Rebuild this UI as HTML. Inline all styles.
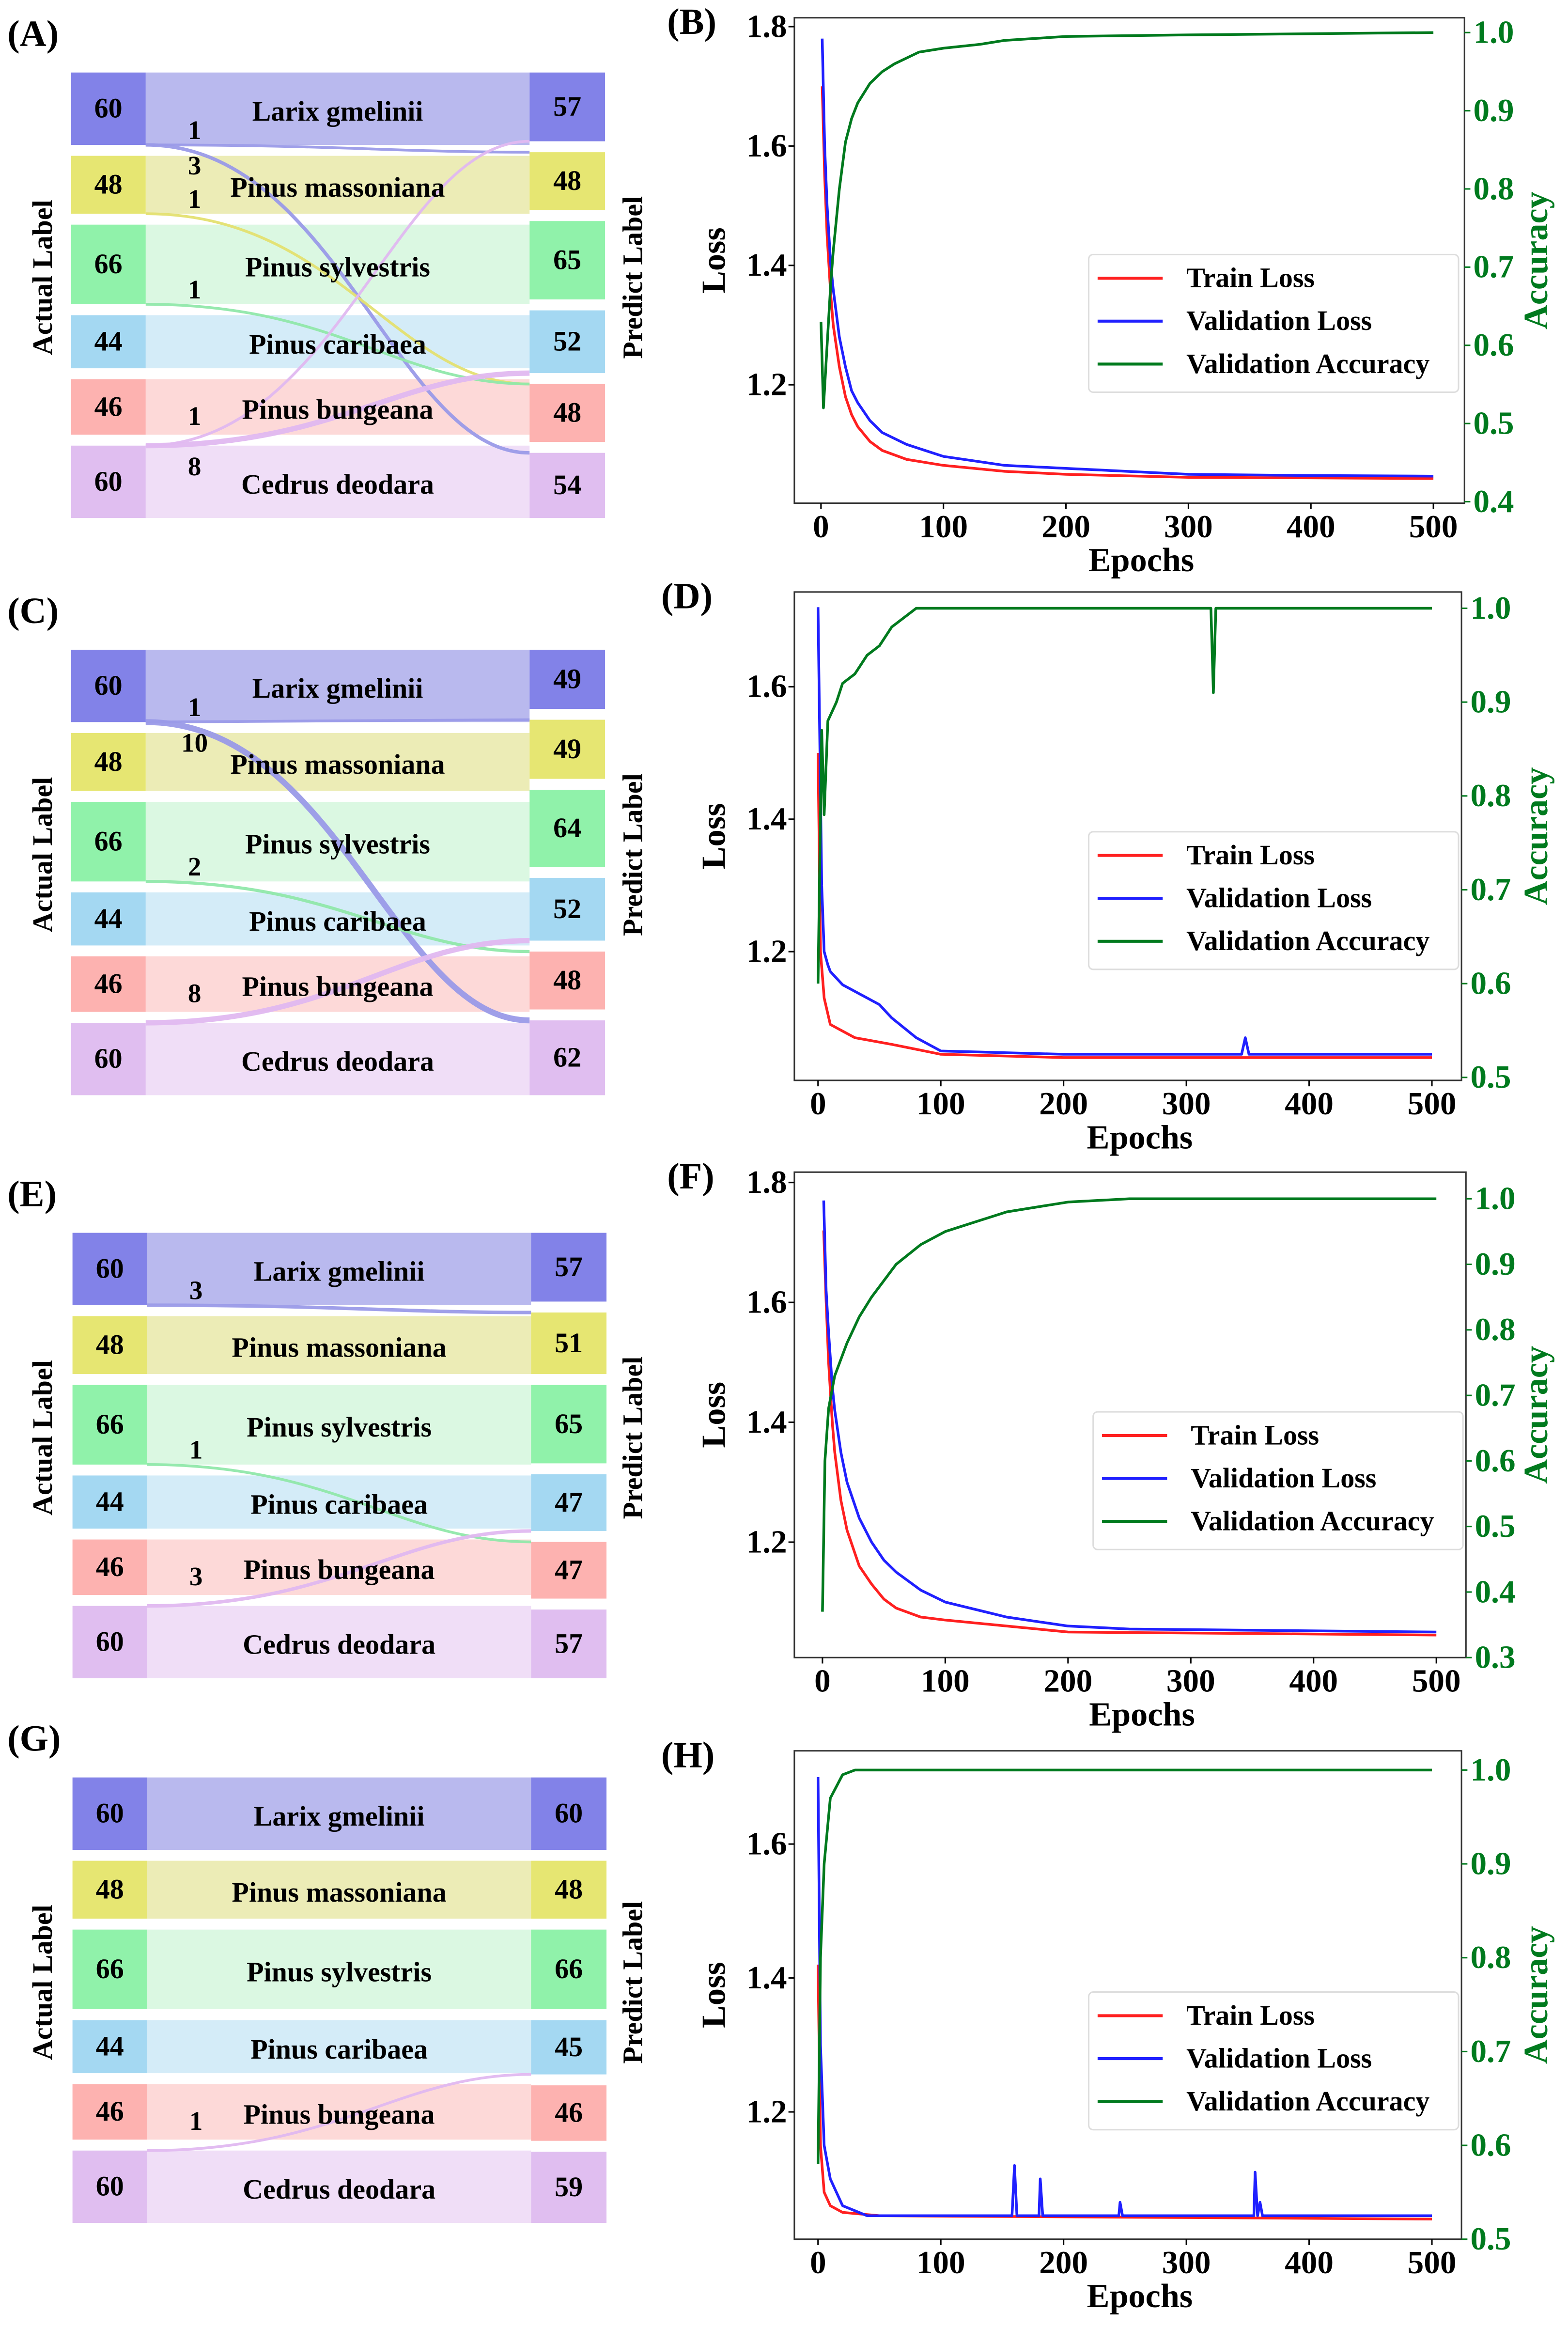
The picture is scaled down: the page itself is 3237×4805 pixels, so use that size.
<!DOCTYPE html>
<html><head><meta charset="utf-8"><style>
html,body{margin:0;padding:0;background:#fff}
svg{display:block}
text{font-family:"Liberation Serif",serif;font-weight:bold}
</style></head>
<body>
<svg id="fig" xmlns="http://www.w3.org/2000/svg" width="3237" height="4805" viewBox="0 0 1060 1573" preserveAspectRatio="none">
<rect x="0" y="0" width="1060" height="1573" fill="#fff"/>
</svg>
<script>
// ---------- Sankey data ----------
const classNames = ["Larix gmelinii","Pinus massoniana","Pinus sylvestris","Pinus caribaea","Pinus bungeana","Cedrus deodara"];
const actualCounts = [60,48,66,44,46,60];
const predA = [57,48,65,52,48,54];
const predC = [49,49,64,52,48,62];
const predE = [57,51,65,47,47,57];
const predG = [60,48,66,45,46,59];
const flowsA = [[0,1,1],[0,5,3],[1,4,1],[2,4,1],[5,0,1],[5,3,8]];
const flowsC = [[0,1,1],[0,5,10],[2,4,2],[5,3,8]];
const flowsE = [[0,1,3],[2,4,1],[5,3,3]];
const flowsG = [[5,3,1]];

// ---------- Training curves data ----------
const epB_tr=[1,3,5,8,10,15,20,25,30,40,50,70,100,150,200,300,400,500], B_tr=[1.70,1.55,1.45,1.35,1.30,1.23,1.18,1.15,1.13,1.105,1.09,1.075,1.065,1.055,1.05,1.045,1.044,1.043];
const epB_va=[1,3,5,8,10,15,20,25,30,40,50,70,100,150,200,300,400,500], B_va=[1.78,1.60,1.50,1.40,1.36,1.28,1.23,1.19,1.17,1.14,1.12,1.10,1.08,1.065,1.06,1.05,1.048,1.047];
const epB_ac=[0,2,5,8,10,15,20,25,30,40,50,60,80,100,130,150,200,300,500], B_ac=[0.63,0.52,0.60,0.68,0.72,0.80,0.86,0.89,0.91,0.935,0.95,0.96,0.975,0.98,0.985,0.99,0.995,0.997,1.0];

const epD_tr=[0,2,5,10,20,30,60,100,200,500], D_tr=[1.50,1.20,1.13,1.09,1.08,1.07,1.06,1.045,1.04,1.04];
const epD_va=[0,3,5,8,10,20,30,50,60,80,100,200,345,348,351,500], D_va=[1.72,1.30,1.20,1.18,1.17,1.15,1.14,1.12,1.10,1.07,1.05,1.045,1.045,1.07,1.045,1.045];
const epD_ac=[0,3,5,8,15,20,30,40,50,60,70,80,320,322,324,500], D_ac=[0.60,0.87,0.78,0.88,0.90,0.92,0.93,0.95,0.96,0.98,0.99,1.0,1.0,0.91,1.0,1.0];

const epF_tr=[1,3,5,8,10,15,20,30,40,50,60,80,100,150,200,500], F_tr=[1.72,1.60,1.50,1.40,1.35,1.27,1.22,1.16,1.13,1.105,1.09,1.075,1.07,1.06,1.05,1.045];
const epF_va=[1,3,5,8,10,15,20,30,40,50,60,80,100,150,200,250,500], F_va=[1.77,1.62,1.55,1.46,1.42,1.35,1.30,1.24,1.20,1.17,1.15,1.12,1.10,1.075,1.06,1.055,1.05];
const epF_ac=[0,2,5,10,20,30,40,60,80,100,150,200,250,500], F_ac=[0.37,0.60,0.68,0.73,0.78,0.82,0.85,0.90,0.93,0.95,0.98,0.995,1.0,1.0];

const epH_tr=[0,2,5,10,20,50,500], H_tr=[1.42,1.15,1.08,1.06,1.05,1.045,1.04];
const epH_va=[0,2,5,10,20,40,158,160,162,180,181,183,245,246,248,355,356,358,360,362,500], H_va=[1.70,1.30,1.15,1.10,1.06,1.045,1.045,1.12,1.045,1.045,1.10,1.045,1.045,1.065,1.045,1.045,1.11,1.045,1.065,1.045,1.045];
const epH_ac=[0,2,5,10,20,30,500], H_ac=[0.58,0.80,0.90,0.97,0.995,1.0,1.0];

const lossTicksB=[1.2,1.4,1.6,1.8], accTicksB=[0.4,0.5,0.6,0.7,0.8,0.9,1.0];
const lossTicksD=[1.2,1.4,1.6], accTicksD=[0.5,0.6,0.7,0.8,0.9,1.0];
const lossTicksF=[1.2,1.4,1.6,1.8], accTicksF=[0.3,0.4,0.5,0.6,0.7,0.8,0.9,1.0];
const lossTicksH=[1.2,1.4,1.6], accTicksH=[0.5,0.6,0.7,0.8,0.9,1.0];
const epochTicks=[0,100,200,300,400,500];

const NS="http://www.w3.org/2000/svg";
const svg=document.getElementById('fig');
function mk(tag,attrs,parent,txt){const e=document.createElementNS(NS,tag);for(const k in attrs)e.setAttribute(k,attrs[k]);if(txt!==undefined)e.textContent=txt;(parent||svg).appendChild(e);return e;}

const boxCol=["#8282e8","#e6e672","#90f2aa","#a4d8f2","#fdb2b0","#e0bef0"];
const midCol=["#b9b9ee","#ececb6","#dbf8e2","#d4ecf8","#fdd9d8","#f0def7"];
const flowCol=["#9a9ae8","#e4e070","#90e8aa","#a4d8f2","#f4c0c0","#e0b8f0"];

function sankey(letter,top,xoff,pred,flows){
  const g=mk('g',{});
  
  
  const t=mk('text',{x:5,y:top-18,'font-size':25},g,'('+letter+')');
  
  const H=301, k=0.815, total=actualCounts.reduce((a,b)=>a+b,0);
  const L0=48+xoff, L1=98.5+xoff, R0=358+xoff, R1=409+xoff;
  function layout(arr){const gap=(H-total*k)/(arr.length-1);let y=top;return arr.map(v=>{const o={y0:y,y1:y+v*k};y+=v*k+gap;return o;});}
  const la=layout(actualCounts), lp=layout(pred);
  classNames.forEach((n,i)=>{
    const m=mk('rect',{x:L1,y:la[i].y0,width:R0-L1,height:la[i].y1-la[i].y0,fill:midCol[i]},g);
    
  });
  const count={};
  flows.forEach(f=>{
    const [s,d,v]=f;
    const ly= d>s? la[s].y1 : la[s].y0;
    const ry= d>s? lp[d].y0 : lp[d].y1;
    const p=mk('path',{d:`M${L1},${ly} C${(L1+R0)/2},${ly} ${(L1+R0)/2+40},${ry} ${R0},${ry}`,fill:'none',stroke:flowCol[s],'stroke-width':Math.min(1.6+v*0.25,4),opacity:0.95},g);
    
    count[s]=(count[s]||0)+1;
    const dy = count[s]===1 ? (d>s?-4:-14) : 20;
    const lt=mk('text',{x:L1+33,y:ly+dy,'font-size':18,'text-anchor':'middle'},g,String(v));
    
  });
  classNames.forEach((n,i)=>{
    const cy=(la[i].y0+la[i].y1)/2;
    const lb=mk('rect',{x:L0,y:la[i].y0,width:L1-L0,height:la[i].y1-la[i].y0,fill:boxCol[i]},g);
    
    const rb=mk('rect',{x:R0,y:lp[i].y0,width:R1-R0,height:lp[i].y1-lp[i].y0,fill:boxCol[i]},g);
    
    const a=mk('text',{x:(L0+L1)/2,y:cy+6,'font-size':19,'text-anchor':'middle'},g,String(actualCounts[i]));
    
    const pcy=(lp[i].y0+lp[i].y1)/2;
    const b=mk('text',{x:(R0+R1)/2,y:pcy+6,'font-size':19,'text-anchor':'middle'},g,String(pred[i]));
    
    const c=mk('text',{x:(L1+R0)/2,y:cy+8,'font-size':19,'text-anchor':'middle'},g,n);
    
  });
  const cyAll=top+H/2-12;
  const al=mk('text',{x:0,y:0,'font-size':19,'text-anchor':'middle',transform:`translate(35,${cyAll}) rotate(-90)`},g,'Actual Label');
  
  const pl=mk('text',{x:0,y:0,'font-size':19,'text-anchor':'middle',transform:`translate(434,${cyAll}) rotate(-90)`},g,'Predict Label');
  
}

function curves(letter,cfg,series,lossTicks,accTicks){
  const g=mk('g',{});
  
  
  const {l,r,t,b,x0,x5,lv1,ly1,lv2,ly2,av1,ay1,av2,ay2,lg}=cfg;
  const xs=e=>x0+(x5-x0)*e/500;
  const ysL=v=>ly1+(ly2-ly1)*(v-lv1)/(lv2-lv1);
  const ysA=v=>ay1+(ay2-ay1)*(v-av1)/(av2-av1);
  const pl=mk('text',{x:cfg.lx,y:t+11,'font-size':25},g,'('+letter+')');
  
  const clip=mk('clipPath',{id:'c'+letter},g);mk('rect',{x:l,y:t,width:r-l,height:b-t},clip);
  const cols=['#ff2020','#2020ff','#007a1e'];
  series.forEach((s,i)=>{
    const ys=i===2?ysA:ysL;
    const d=s[0].map((e,j)=>(j?'L':'M')+xs(e).toFixed(2)+','+ys(s[1][j]).toFixed(2)).join(' ');
    const p=mk('path',{d,fill:'none',stroke:cols[i],'stroke-width':1.8,'stroke-linejoin':'round','clip-path':`url(#c${letter})`},g);
    
    
  });
  const fr=mk('rect',{x:l,y:t,width:r-l,height:b-t,fill:'none',stroke:'#333','stroke-width':1},g);
  
  epochTicks.forEach(e=>{
    mk('line',{x1:xs(e),x2:xs(e),y1:b,y2:b+4,stroke:'#000'},g);
    const tx=mk('text',{x:xs(e),y:b+23,'font-size':22,'text-anchor':'middle'},g,String(e));
    
  });
  lossTicks.forEach(v=>{
    mk('line',{x1:l-4,x2:l,y1:ysL(v),y2:ysL(v),stroke:'#000'},g);
    const tx=mk('text',{x:l-5,y:ysL(v)+7,'font-size':22,'text-anchor':'end'},g,v.toFixed(1));
    
  });
  accTicks.forEach(v=>{
    mk('line',{x1:r,x2:r+4,y1:ysA(v),y2:ysA(v),stroke:'#007a1e'},g);
    const tx=mk('text',{x:r+6,y:ysA(v)+7,'font-size':22,fill:'#007a1e'},g,v.toFixed(1));
    
  });
  const xt=mk('text',{x:(l+r)/2+8,y:b+46,'font-size':23,'text-anchor':'middle'},g,'Epochs');
  
  const yt=mk('text',{x:0,y:0,'font-size':23,'text-anchor':'middle',transform:`translate(490,${(t+b)/2}) rotate(-90)`},g,'Loss');
  
  const at=mk('text',{x:0,y:0,'font-size':23,'text-anchor':'middle',fill:'#007a1e',transform:`translate(1046,${(t+b)/2}) rotate(-90)`},g,'Accuracy');
  
  const lb=mk('rect',{x:lg[0],y:lg[1],width:250,height:93,rx:3,fill:'#fff',stroke:'#ddd'},g);
  
  ['Train Loss','Validation Loss','Validation Accuracy'].forEach((n,i)=>{
    const y=lg[1]+16+i*29;
    mk('line',{x1:lg[0]+6,x2:lg[0]+50,y1:y,y2:y,stroke:cols[i],'stroke-width':2},g);
    const tx=mk('text',{x:lg[0]+66,y:y+6,'font-size':19},g,n);
    
  });
}

sankey('A',49,0,predA,flowsA);
sankey('C',439,0,predC,flowsC);
sankey('E',833,1,predE,flowsE);
sankey('G',1201,1,predG,flowsG);

curves('B',{lx:451,l:537,r:990,t:12,b:340,x0:555,x5:969,lv1:1.2,ly1:260,lv2:1.8,ly2:18,av1:0.4,ay1:339,av2:1.0,ay2:22,lg:[736,172]},
  [[epB_tr,B_tr],[epB_va,B_va],[epB_ac,B_ac]],lossTicksB,accTicksB);
curves('D',{lx:447,l:537,r:988,t:400,b:730,x0:553,x5:968,lv1:1.2,ly1:643,lv2:1.6,ly2:464,av1:0.5,ay1:728,av2:1.0,ay2:411,lg:[736,562]},
  [[epD_tr,D_tr],[epD_va,D_va],[epD_ac,D_ac]],lossTicksD,accTicksD);
curves('F',{lx:451,l:537,r:991,t:792,b:1120,x0:556,x5:971,lv1:1.2,ly1:1042,lv2:1.8,ly2:799,av1:0.3,ay1:1120,av2:1.0,ay2:810,lg:[739,954]},
  [[epF_tr,F_tr],[epF_va,F_va],[epF_ac,F_ac]],lossTicksF,accTicksF);
curves('H',{lx:447,l:537,r:988,t:1183,b:1513,x0:553,x5:968,lv1:1.2,ly1:1427,lv2:1.6,ly2:1246,av1:0.5,ay1:1513,av2:1.0,ay2:1196,lg:[736,1346]},
  [[epH_tr,H_tr],[epH_va,H_va],[epH_ac,H_ac]],lossTicksH,accTicksH);
</script>
</body></html>
